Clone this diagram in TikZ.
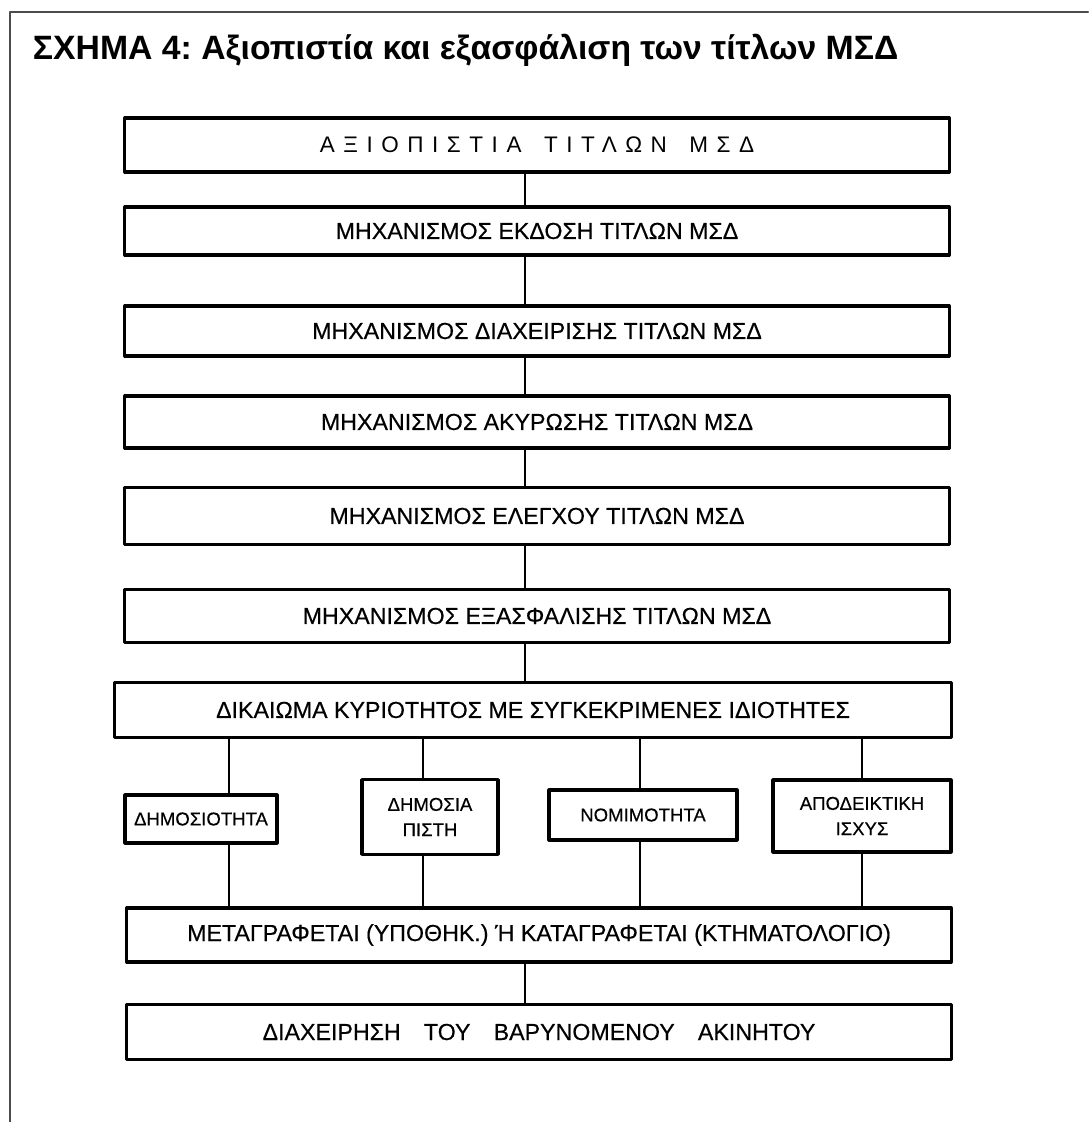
\documentclass[tikz,border=0pt]{standalone}
\usepackage{fontspec}
\setmainfont{Liberation Sans}
\usetikzlibrary{positioning}
\frenchspacing
\begin{document}
\begin{tikzpicture}[x=0.025cm,y=-0.025cm,line join=round,line cap=round,font=\fontsize{16.5}{18}\selectfont\addfontfeatures{FakeBold=0.4},
	box/.style={draw,line width=2.2pt,inner sep=0pt,minimum width=20.6cm,align=center},
	prop/.style={draw,line width=2.2pt,inner sep=0pt,align=center,font=\fontsize{13.2}{18}\selectfont\addfontfeatures{FakeBold=0.4}},
	link/.style={line width=1.1pt}]
					\useasboundingbox (0,0) rectangle (1088,1122);
					\draw[line width=1.6pt,color=black!70] (1088,12)--(10,12)--(10,1122);
					\node[anchor=west,font=\fontsize{24}{26}\selectfont\bfseries] (title) at (28,50) {ΣΧΗΜΑ 4: Αξιοπιστία και εξασφάλιση των τίτλων ΜΣΔ};
					\node[box,minimum height=1.35cm,font=\fontsize{16}{18}\selectfont\addfontfeatures{LetterSpace=38}] (axio) at (537,145) {ΑΞΙΟΠΙΣΤΙΑ\quad ΤΙΤΛΩΝ\quad ΜΣΔ};
					\node[box,minimum height=1.2cm] (ekdosi) at (537,231) {ΜΗΧΑΝΙΣΜΟΣ ΕΚΔΟΣΗ ΤΙΤΛΩΝ ΜΣΔ};
					\node[box,minimum height=1.25cm] (diax) at (537,331) {ΜΗΧΑΝΙΣΜΟΣ ΔΙΑΧΕΙΡΙΣΗΣ ΤΙΤΛΩΝ ΜΣΔ};
					\node[box,minimum height=1.3cm] (akyr) at (537,422) {ΜΗΧΑΝΙΣΜΟΣ ΑΚΥΡΩΣΗΣ ΤΙΤΛΩΝ ΜΣΔ};
					\node[box,minimum height=1.42cm] (elegx) at (537,516) {ΜΗΧΑΝΙΣΜΟΣ ΕΛΕΓΧΟΥ ΤΙΤΛΩΝ ΜΣΔ};
					\node[box,minimum height=1.32cm] (exasf) at (537,616) {ΜΗΧΑΝΙΣΜΟΣ ΕΞΑΣΦΑΛΙΣΗΣ ΤΙΤΛΩΝ ΜΣΔ};
					\node[box,minimum height=1.37cm,minimum width=20.9cm] (dikaioma) at (533,710) {ΔΙΚΑΙΩΜΑ ΚΥΡΙΟΤΗΤΟΣ ΜΕ ΣΥΓΚΕΚΡΙΜΕΝΕΣ ΙΔΙΟΤΗΤΕΣ};
					\node[prop,minimum width=3.8cm,minimum height=1.2cm] (dimos) at (201,819) {ΔΗΜΟΣΙΟΤΗΤΑ};
					\node[prop,minimum width=3.4cm,minimum height=1.87cm] (pisti) at (430,817) {ΔΗΜΟΣΙΑ\\ΠΙΣΤΗ};
					\node[prop,minimum width=4.7cm,minimum height=1.25cm] (nomim) at (643,815) {ΝΟΜΙΜΟΤΗΤΑ};
					\node[prop,minimum width=4.45cm,minimum height=1.8cm] (apod) at (862,816) {ΑΠΟΔΕΙΚΤΙΚΗ\\ΙΣΧΥΣ};
					\node[box,minimum height=1.35cm] (metagr) at (539,935) {ΜΕΤΑΓΡΑΦΕΤΑΙ (ΥΠΟΘΗΚ.) Ή ΚΑΤΑΓΡΑΦΕΤΑΙ (ΚΤΗΜΑΤΟΛΟΓΙΟ)};
					\node[box,minimum height=1.37cm] (akinito) at (539,1032) {ΔΙΑΧΕΙΡΗΣΗ\quad ΤΟΥ\quad ΒΑΡΥΝΟΜΕΝΟΥ\quad ΑΚΙΝΗΤΟΥ};
					\coordinate (trunk) at (525,0);
					\foreach \u/\v in {axio/ekdosi,ekdosi/diax,diax/akyr,akyr/elegx,elegx/exasf,exasf/dikaioma,metagr/akinito}
						\draw[link] (\u.south -| trunk)--(\v.north -| trunk);
					\foreach \p/\c in {dimos/229,pisti/423,nomim/640,apod/862}{
						\coordinate (c\p) at (\c,0);
						\draw[link] (dikaioma.south -| c\p)--(\p.north -| c\p);
						\draw[link] (\p.south -| c\p)--(metagr.north -| c\p);
					}
					\end{tikzpicture}
\end{document}
